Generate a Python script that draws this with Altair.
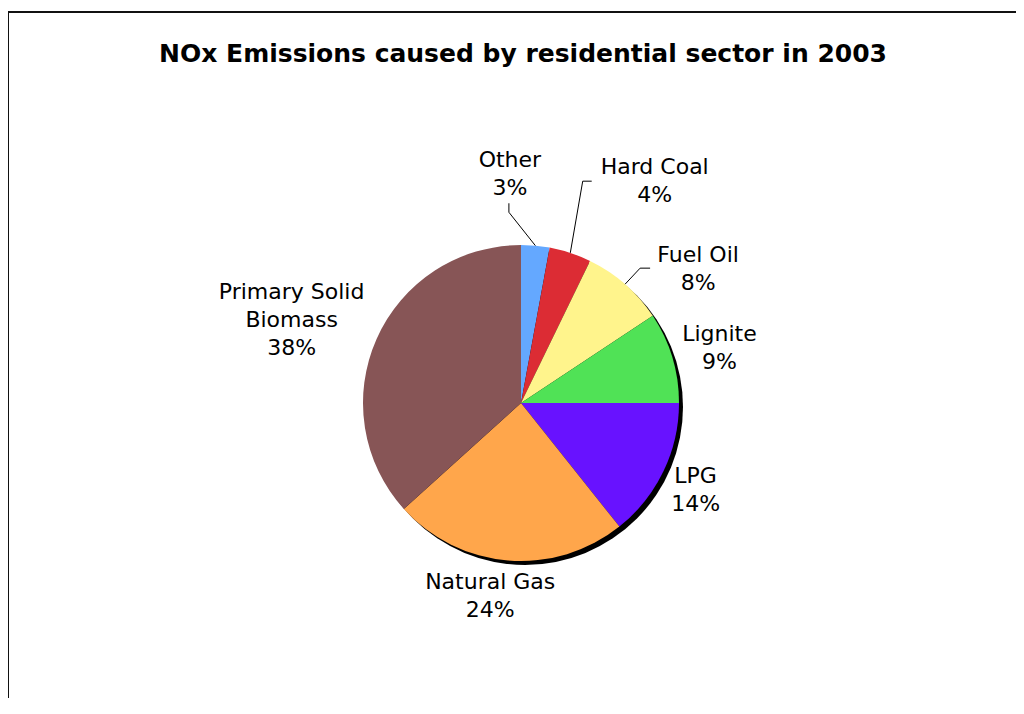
import altair as alt
import pandas as pd
import numpy as np

# ---- data ----
categories = ["Other", "Hard Coal", "Fuel Oil", "Lignite", "LPG", "Natural Gas", "Primary Solid Biomass"]
shares = [2.9, 4.3, 8.5, 9.3, 14.3, 24.0, 36.7]
pct_labels = ["3%", "4%", "8%", "9%", "14%", "24%", "38%"]
name_labels = ["Other", "Hard Coal", "Fuel Oil", "Lignite", "LPG", "Natural Gas", "Primary Solid\nBiomass"]
colors = ["#64A8FF", "#DC2C34", "#FFF48C", "#50E256", "#6812FF", "#FFA64B", "#875556"]
title_text = "NOx Emissions caused by residential sector in 2003"

# ---- layout / style ----
W, H = 1008, 690
CX, CY, R = 513, 395, 158
SHADOW = 4
FONT = "DejaVu Sans"
LABEL_SIZE = 22
LH = 28
label_radius = [229, 259, 222, 206, 195, 195, 244]
label_angle_shift = [-8.0, 12.9, 11.7, 1.2, 0.7, 4.4, -4.0]
# leader lines: (elbow dx, elbow dy, end dx, end dy) relative to label centre
leaders = {
    "Other": (-1, 38, -1, 29),
    "Hard Coal": (-72, 0, -63, 0),
    "Fuel Oil": (-58, -1, -48, -1),
}

df = pd.DataFrame({"cat": categories, "share": shares, "idx": list(range(len(categories)))})
total = float(np.sum(shares))
cum = np.cumsum(shares) - np.array(shares) / 2.0
mid_deg = cum / total * 360.0

lab_ang = np.radians(mid_deg + np.array(label_angle_shift))
lab_x = CX + np.array(label_radius) * np.sin(lab_ang)
lab_y = CY - np.array(label_radius) * np.cos(lab_ang)
texts = [n + "\n" + p for n, p in zip(name_labels, pct_labels)]
n_lines = np.array([t.count("\n") + 1 for t in texts])
labels_df = pd.DataFrame({
    "cat": categories,
    "text": texts,
    "lx": lab_x,
    "ly": lab_y - (n_lines - 1) * LH / 2.0,
})

rows = []
for i, c in enumerate(categories):
    if c in leaders:
        a = np.radians(mid_deg[i])
        ex, ey = CX + R * np.sin(a), CY - R * np.cos(a)
        ebx, eby, enx, eny = leaders[c]
        rows.append({"cat": c, "k": 0, "x": ex, "y": ey})
        rows.append({"cat": c, "k": 1, "x": lab_x[i] + ebx, "y": lab_y[i] + eby})
        rows.append({"cat": c, "k": 2, "x": lab_x[i] + enx, "y": lab_y[i] + eny})
lines_df = pd.DataFrame(rows)

shadow = alt.Chart(pd.DataFrame({"a": [1]})).mark_arc(
    radius=R, theta=0, theta2=2 * np.pi, color="black"
).encode(x=alt.value(CX + SHADOW), y=alt.value(CY + SHADOW))

pie = alt.Chart(df).mark_arc(radius=R, stroke=None).encode(
    theta=alt.Theta("share:Q", stack=True),
    color=alt.Color("cat:N", scale=alt.Scale(domain=categories, range=colors), legend=None),
    order=alt.Order("idx:Q"),
    x=alt.value(CX),
    y=alt.value(CY),
)

leader = alt.Chart(lines_df).mark_line(color="black", strokeWidth=1).encode(
    x=alt.X("x:Q", scale=None),
    y=alt.Y("y:Q", scale=None),
    detail="cat:N",
    order="k:Q",
)

labels = alt.Chart(labels_df).mark_text(
    font=FONT, fontSize=LABEL_SIZE, lineHeight=LH, lineBreak="\n", align="center", baseline="middle", color="black"
).encode(
    x=alt.X("lx:Q", scale=None),
    y=alt.Y("ly:Q", scale=None),
    text="text:N",
)

title = alt.Chart(pd.DataFrame({"t": [title_text]})).mark_text(
    font=FONT, fontSize=25, fontWeight="bold", align="center", baseline="alphabetic", color="black"
).encode(x=alt.value(515), y=alt.value(54), text="t:N")

frame_top = alt.Chart(pd.DataFrame({"a": [1]})).mark_rule(color="#111111", strokeWidth=2).encode(
    x=alt.value(0), x2=alt.value(W), y=alt.value(4)
)
frame_left = alt.Chart(pd.DataFrame({"a": [1]})).mark_rule(color="#111111", strokeWidth=2).encode(
    x=alt.value(0), y=alt.value(3), y2=alt.value(H)
)

chart = alt.layer(frame_top, frame_left, shadow, pie, leader, labels, title).properties(
    width=W, height=H, padding=0, autosize=alt.AutoSizeParams(type="none")
).configure_view(stroke=None)

chart.save("out.html", embed_options={"renderer": "svg", "actions": False})
